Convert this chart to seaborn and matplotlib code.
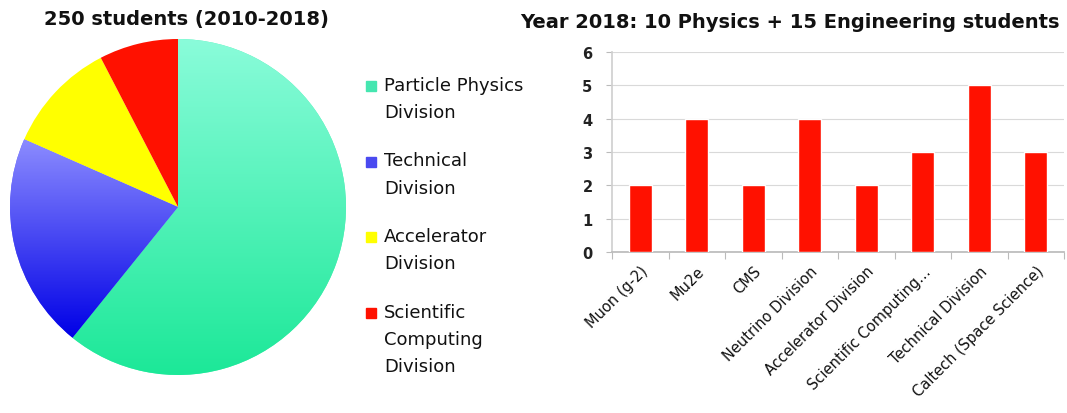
import matplotlib
matplotlib.use("Agg")
import matplotlib.pyplot as plt
from matplotlib.patches import Rectangle
from matplotlib.colors import LinearSegmentedColormap
import seaborn as sns
import pandas as pd
import numpy as np

# ---- data ----
pie_labels = ["Particle Physics\nDivision", "Technical\nDivision",
              "Accelerator\nDivision", "Scientific\nComputing\nDivision"]
pie_values = [152, 52, 27, 19]
pie_colors = ["#55eeb8", "#6a6aff", "#ffff00", "#ff1100"]
# vertical gradients (top, bottom) for wedges; None = flat
pie_gradients = [("#8afcda", "#1ce898"), ("#8c8cff", "#0000e6"), None, None]
legend_colors = ["#45e6b0", "#4a4af0", "#ffff00", "#ff1100"]
pie_title = "250 students (2010-2018)"

bar_categories = ["Muon (g-2)", "Mu2e", "CMS", "Neutrino Division",
                  "Accelerator Division", "Scientific Computing…",
                  "Technical Division", "Caltech (Space Science)"]
bar_values = [2, 4, 2, 4, 2, 3, 5, 3]
bar_title = "Year 2018: 10 Physics + 15 Engineering students"
y_ticks = [0, 1, 2, 3, 4, 5, 6]

sns.set_theme(style="white")
plt.rcParams['font.family'] = ['DejaVu Sans']

W, H = 1067, 414
fig = plt.figure(figsize=(W / 100, H / 100), dpi=100)
fig.patch.set_facecolor("white")

def px(x0, y0, w, h):
    return [x0 / W, 1 - (y0 + h) / H, w / W, h / H]

# ---- pie ----
ax1 = fig.add_axes(px(10, 40, 336, 336))
wedges, _ = ax1.pie(pie_values, colors=pie_colors, startangle=90, counterclock=False,
                    radius=1.0, wedgeprops=dict(linewidth=0))
grad = np.linspace(0, 1, 256).reshape(-1, 1)
for w, g in zip(wedges, pie_gradients):
    if g is None:
        continue
    ang = np.deg2rad(np.linspace(w.theta1, w.theta2, 200))
    ys = np.concatenate([[0.0], w.r * np.sin(ang)])
    ytop, ybot = ys.max(), ys.min()
    cmap = LinearSegmentedColormap.from_list("g", [g[0], g[1]])
    im = ax1.imshow(grad, cmap=cmap, extent=(-1, 1, ybot, ytop), origin="upper",
                    aspect="auto", zorder=w.get_zorder() + 0.1)
    im.set_clip_path(w)
ax1.set_aspect("equal")
ax1.set_xlim(-1.0, 1.0)
ax1.set_ylim(-1.0, 1.0)
ax1.axis("off")
fig.text(186 / W, 1 - 19 / H, pie_title, ha="center", va="center",
         fontsize=14, fontweight="bold", color="#111111")

# legend (manual)
for i, (lab, col) in enumerate(zip(pie_labels, legend_colors)):
    ytop = 77 + 75.5 * i
    fig.patches.append(Rectangle((366 / W, 1 - (ytop + 15) / H), 10 / W, 10 / H,
                                 transform=fig.transFigure, color=col))
    fig.text(384 / W, 1 - ytop / H, lab, ha="left", va="top", fontsize=13,
             linespacing=1.65, color="#111111")

# ---- bar chart ----
ax2 = fig.add_axes(px(612, 53, 452, 200))
df = pd.DataFrame({"cat": bar_categories, "val": bar_values})
sns.barplot(data=df, x="cat", y="val", color="#ff1100", saturation=1,
            width=0.4, ax=ax2, zorder=3)
ax2.set_ylim(0, 6)
ax2.set_xlim(-0.5, len(bar_categories) - 0.5)
ax2.set_yticks(y_ticks)
ax2.set_yticklabels([str(t) for t in y_ticks], fontsize=10.5, fontweight="bold", color="#222222")
ax2.set_xlabel("")
ax2.set_ylabel("")
ax2.set_xticks(range(len(bar_categories)))
ax2.set_xticklabels(bar_categories, rotation=45, ha="right", rotation_mode="anchor",
                    fontsize=10.5, color="#111111")
ax2.tick_params(axis="x", length=0, pad=8)
ax2.tick_params(axis="y", length=4, width=0.8, color="#bbbbbb", pad=10, left=True)
ax2.set_xticks(np.arange(-0.5, len(bar_categories), 1), minor=True)
ax2.tick_params(axis="x", which="minor", length=5, color="#bbbbbb", width=0.8, bottom=True)
ax2.grid(axis="y", color="#d9d9d9", linewidth=0.8, zorder=0)
for s in ["top", "right"]:
    ax2.spines[s].set_visible(False)
ax2.spines["left"].set_color("#d0d0d0")
ax2.spines["bottom"].set_color("#bbbbbb")
fig.text(790 / W, 1 - 22 / H, bar_title, ha="center", va="center",
         fontsize=14, fontweight="bold", color="#111111")

fig.savefig("out.png", dpi=100, facecolor="white")
